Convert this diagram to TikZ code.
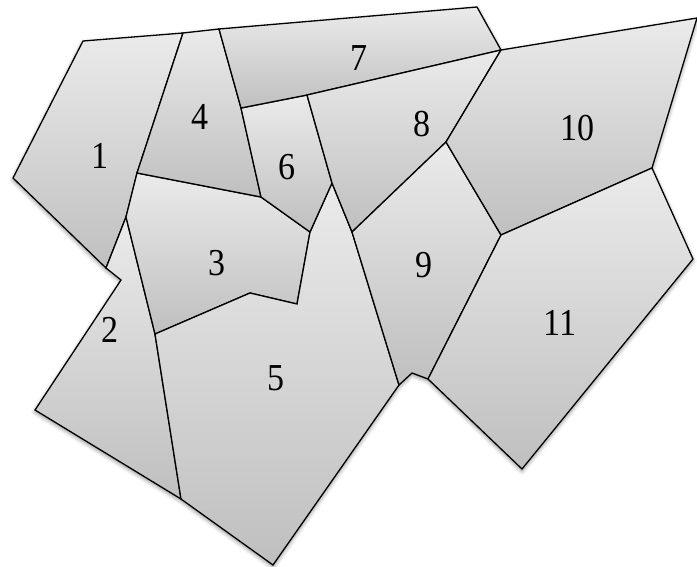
\documentclass[tikz,border=0pt]{standalone}
\usepackage{fontspec}
\setmainfont{Liberation Serif}
\usetikzlibrary{shadows.blur}
\begin{document}
\begin{tikzpicture}[x=1pt,y=-1pt,
  cell/.style={top color=gray!16,bottom color=gray!50,draw=black,line width=1.3pt,line join=miter},
  shadowcell/.style={fill=white,blur shadow={shadow xshift=0pt,shadow yshift=-2pt,shadow blur radius=4pt,shadow opacity=45}},
  lbl/.style={font=\fontsize{34}{36}\selectfont,inner sep=0pt,yscale=1.12}]
\useasboundingbox (0,0) rectangle (697,566);
\coordinate (A) at (83,41);
\coordinate (B) at (183,33);
\coordinate (C) at (219,29);
\coordinate (D) at (477,7);
\coordinate (E) at (501,50);
\coordinate (F) at (697,18);
\coordinate (G) at (652,168);
\coordinate (H) at (693,259);
\coordinate (I) at (522,469);
\coordinate (J) at (428,379);
\coordinate (K) at (412,373);
\coordinate (L) at (399,385);
\coordinate (M) at (273,565);
\coordinate (N) at (181,499);
\coordinate (O) at (35,410);
\coordinate (P) at (121,280);
\coordinate (Q) at (106,268);
\coordinate (R) at (13,178);
\coordinate (S) at (137,173);
\coordinate (T) at (126,217);
\coordinate (U) at (155,334);
\coordinate (V) at (250,293);
\coordinate (W) at (297,304);
\coordinate (X) at (310,232);
\coordinate (Y) at (261,197);
\coordinate (Z) at (241,108);
\coordinate (AA) at (307,95);
\coordinate (AB) at (332,183);
\coordinate (AC) at (352,232);
\coordinate (AD) at (446,142);
\coordinate (AE) at (501,235);
% shadows
\path[shadowcell] (A)--(B)--(C)--(D)--(E)--(F)--(G)--(H)--(I)--(J)--(K)--(L)--(M)--(N)--(O)--(P)--(Q)--(R)--cycle;
% cells
\shadedraw[cell] (A)--(B)--(S)--(T)--(Q)--(R)--cycle;
\shadedraw[cell] (T)--(Q)--(P)--(O)--(N)--(U)--cycle;
\shadedraw[cell] (S)--(Y)--(X)--(W)--(V)--(U)--(T)--cycle;
\shadedraw[cell] (B)--(C)--(Z)--(Y)--(S)--cycle;
\shadedraw[cell] (U)--(V)--(W)--(X)--(AB)--(AC)--(L)--(M)--(N)--cycle;
\shadedraw[cell] (Z)--(AA)--(AB)--(X)--(Y)--cycle;
\shadedraw[cell] (C)--(D)--(E)--(AA)--(Z)--cycle;
\shadedraw[cell] (AA)--(E)--(AD)--(AC)--(AB)--cycle;
\shadedraw[cell] (AD)--(AE)--(J)--(K)--(L)--(AC)--cycle;
\shadedraw[cell] (E)--(F)--(G)--(AE)--(AD)--cycle;
\shadedraw[cell] (AE)--(G)--(H)--(I)--(J)--cycle;
% labels
\node[lbl] (l1) at (100,156) {1};
\node[lbl] (l2) at (110,330) {2};
\node[lbl] (l3) at (217,263) {3};
\node[lbl] (l4) at (200,117) {4};
\node[lbl] (l5) at (276,378) {5};
\node[lbl] (l6) at (287,167) {6};
\node[lbl] (l7) at (359,58) {7};
\node[lbl] (l8) at (422,124) {8};
\node[lbl] (l9) at (424,265) {9};
\node[lbl] (l10) at (577,128) {10};
\node[lbl] (l11) at (560,323) {11};
\end{tikzpicture}
\end{document}
